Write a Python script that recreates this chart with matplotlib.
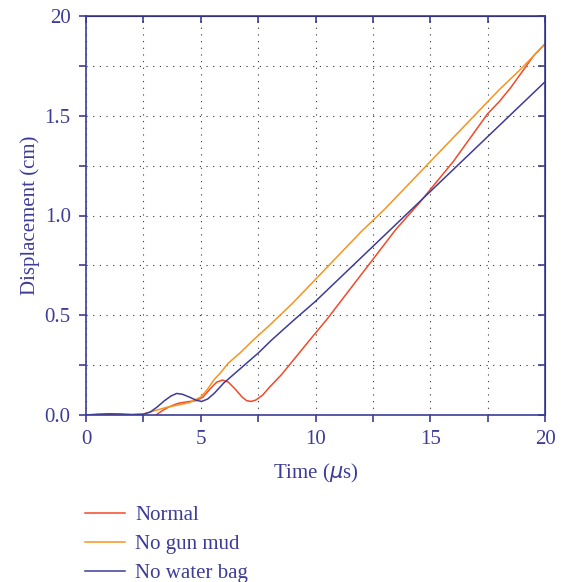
import numpy as np
import matplotlib.pyplot as plt
from matplotlib.lines import Line2D

# colours
navy = '#3d3c98'
red = '#f04a28'
orange = '#f7941e'

# Normal
t_normal = [3.05, 3.3, 3.6, 4.0, 4.4, 4.8, 5.1, 5.4, 5.7, 5.95, 6.2, 6.5, 6.8, 7.0, 7.2,
            7.4, 7.7, 8.0, 8.5, 9.0, 9.75, 10.5, 11.5, 12.5, 13.5, 14.5, 15.0, 15.5, 16.0,
            16.5, 17.0, 17.5, 18.0, 18.5, 19.0, 19.5, 20.0]
d_normal = [0.0, 0.02, 0.04, 0.058, 0.066, 0.072, 0.09, 0.13, 0.165, 0.175, 0.165, 0.13, 0.09,
            0.072, 0.068, 0.075, 0.1, 0.14, 0.2, 0.27, 0.376, 0.48, 0.63, 0.78, 0.93, 1.06, 1.13,
            1.2, 1.27, 1.35, 1.43, 1.51, 1.57, 1.64, 1.72, 1.8, 1.86]

# No gun mud
t_mud = [0.0, 1.0, 2.0, 2.5, 3.0, 3.5, 4.0, 4.5, 5.0, 5.3, 5.6, 5.85, 6.2, 6.7, 7.29,
         8.0, 9.0, 10.0, 11.0, 12.0, 13.0, 14.0, 15.0, 16.0, 17.0, 18.0, 19.0, 20.0]
d_mud = [0.0, 0.003, 0.002, 0.005, 0.022, 0.038, 0.05, 0.062, 0.09, 0.13, 0.18, 0.21, 0.26,
         0.31, 0.376, 0.45, 0.56, 0.68, 0.8, 0.92, 1.03, 1.15, 1.27, 1.39, 1.51, 1.63, 1.74, 1.86]

# No water bag
t_bag = [0.0, 0.5, 1.0, 1.5, 2.0, 2.5, 2.8, 3.1, 3.4, 3.7, 3.95, 4.2, 4.5, 4.8, 5.04, 5.3,
         5.6, 6.0, 6.5, 7.0, 7.5, 8.09, 9.0, 10.0, 11.0, 12.0, 13.0, 14.0, 15.0, 16.0, 17.0,
         18.0, 19.0, 20.0]
d_bag = [0.0, 0.004, 0.006, 0.005, 0.002, 0.004, 0.015, 0.04, 0.07, 0.095, 0.108, 0.104,
         0.09, 0.074, 0.068, 0.08, 0.11, 0.16, 0.21, 0.26, 0.31, 0.376, 0.47, 0.57, 0.68,
         0.79, 0.9, 1.01, 1.12, 1.23, 1.34, 1.45, 1.56, 1.67]

x_ticks = [0, 5, 10, 15, 20]
y_ticks = [0.0, 0.5, 1.0, 1.5, 2.0]
y_labels = ['0.0', '0.5', '1.0', '1.5', '20']

plt.rcParams['font.family'] = ['Liberation Serif', 'DejaVu Serif']

fig = plt.figure(figsize=(5.63, 5.82), dpi=100)
ax = fig.add_axes([86 / 563, 1 - 415 / 582, 459 / 563, 399 / 582])

ax.plot(t_normal, d_normal, color=red, linewidth=1.1)
ax.plot(t_mud, d_mud, color=orange, linewidth=1.1)
ax.plot(t_bag, d_bag, color=navy, linewidth=1.1)

ax.set_xlim(0, 20)
ax.set_ylim(0, 2.0)
ax.set_xticks(x_ticks)
ax.set_xticks([2.5, 7.5, 12.5, 17.5], minor=True)
ax.set_yticks(y_ticks)
ax.set_yticklabels(y_labels)
ax.set_yticks([0.25, 0.75, 1.25, 1.75], minor=True)
ax.grid(True, which='both', linestyle=(0, (1, 5)), color='#333333', linewidth=0.8)

for s in ax.spines.values():
    s.set_color(navy)
    s.set_linewidth(1.2)
ax.tick_params(which='both', direction='out', colors=navy, labelsize=15, width=1.2,
               length=5, pad=6)

top = ax.secondary_xaxis('top')
top.set_xticks(x_ticks + [2.5, 7.5, 12.5, 17.5])
top.tick_params(direction='in', colors=navy, labeltop=False, length=5, width=1.2)
right = ax.secondary_yaxis('right')
right.set_yticks(y_ticks + [0.25, 0.75, 1.25, 1.75])
right.tick_params(direction='in', colors=navy, labelright=False, length=5, width=1.2)

ax.set_xlabel('Time ($\\mu$s)', color=navy, fontsize=15, labelpad=9)
ax.set_ylabel('Displacement (cm)', color=navy, fontsize=15, labelpad=3)

handles = [Line2D([], [], color=red, linewidth=1.1),
           Line2D([], [], color=orange, linewidth=1.1),
           Line2D([], [], color=navy, linewidth=1.1)]
leg = fig.legend(handles, ['Normal', 'No gun mud', 'No water bag'], loc='upper left',
                 bbox_to_anchor=(77 / 563, 1 - 497 / 582), frameon=False, fontsize=15,
                 handlelength=1.9, labelspacing=0.45, handletextpad=0.5, borderaxespad=0)
for txt in leg.get_texts():
    txt.set_color(navy)

fig.savefig('out.png', dpi=100)
